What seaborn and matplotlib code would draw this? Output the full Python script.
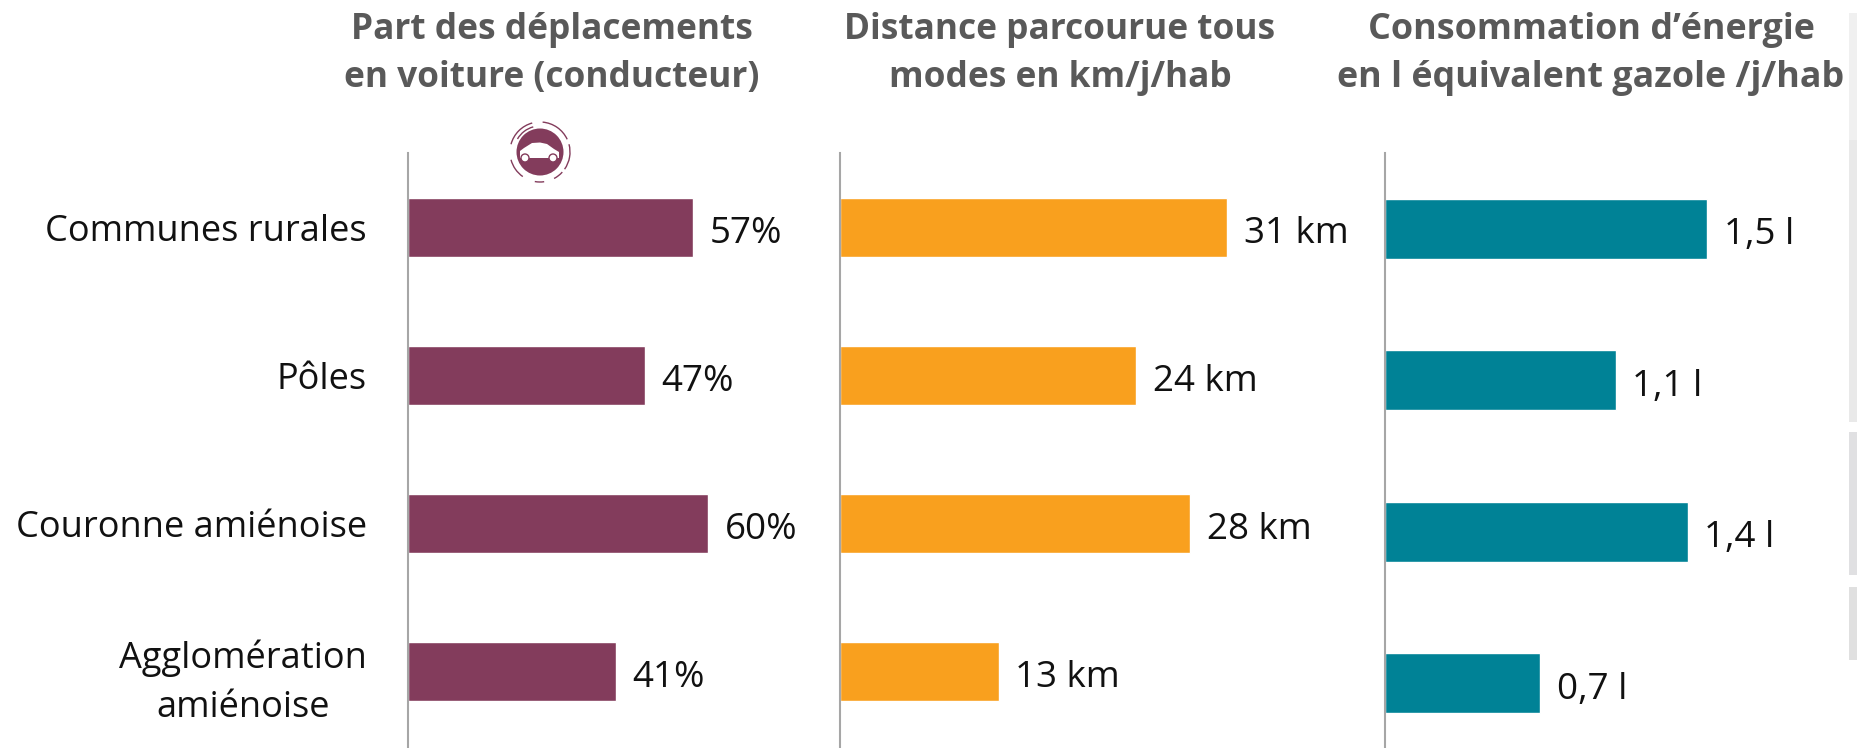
import numpy as np
import pandas as pd
import matplotlib
matplotlib.use('Agg')
import matplotlib.pyplot as plt
from matplotlib.patches import Circle, Arc, Polygon, Rectangle
import seaborn as sns

sns.set_theme(style='white')
plt.rcParams['font.family'] = ['Open Sans', 'DejaVu Sans']

W, H = 1858, 748

territoires = ['Communes rurales', 'Pôles', 'Couronne amiénoise', 'Agglomération\namiénoise']
part_voiture = [57, 47.3, 60, 41.6]
distance = [31, 23.7, 28, 12.7]
energie = [1.495, 1.07, 1.405, 0.72]
labels_part = ['57%', '47%', '60%', '41%']
labels_dist = ['31 km', '24 km', '28 km', '13 km']
labels_ener = ['1,5 l', '1,1 l', '1,4 l', '0,7 l']
titres = ['Part des déplacements\nen voiture (conducteur)',
          'Distance parcourue tous\nmodes en km/j/hab',
          'Consommation d’énergie\nen l équivalent gazole /j/hab']
couleurs = ['#833C5C', '#F9A01E', '#008296']

df = pd.DataFrame({'territoire': territoires, 'part': part_voiture,
                   'dist': distance, 'ener': energie})

fig = plt.figure(figsize=(W / 100, H / 100), dpi=100)


def panneau(col, labels, couleur, x0, largeur, xmax, centre, pas, haut_barre, show_y):
    ax = fig.add_axes([x0 / W, 0, largeur / W, (H - 153) / H])
    sns.barplot(data=df, x=col, y='territoire', color=couleur, saturation=1,
                width=haut_barre / pas, ax=ax)
    ax.set_xlim(0, xmax)
    ax.set_ylim((H - centre) / pas, (153 - centre) / pas)
    ax.set_xlabel('')
    ax.set_ylabel('')
    ax.set_xticks([])
    sns.despine(ax=ax, top=True, right=True, bottom=True)
    ax.spines['left'].set_color('#A6A6A6')
    ax.spines['left'].set_linewidth(1.5)
    ax.patch.set_alpha(0)
    for t in ax.bar_label(ax.containers[0], labels=labels, padding=12, fontsize=26.5, color='#111111'):
        t.set_va('center_baseline')
        t.xyann = (12, -1.5)
    if show_y:
        ax.tick_params(axis='y', length=0, pad=29.5, labelsize=26, labelcolor='#111111')
        for t in ax.get_yticklabels():
            t.set_multialignment('center')
            t.set_linespacing(1.5)
    else:
        ax.set_yticks([])
    return ax


panneau('part', labels_part, couleurs[0], 408, 400, 80, 227.5, 148, 59, True)
panneau('dist', labels_dist, couleurs[1], 840, 500, 40, 227.5, 148, 59, False)
panneau('ener', labels_ener, couleurs[2], 1385.5, 450, 2.093, 228.5, 151.5, 60, False)

# calque en pixels pour les titres, l'icone et la bande de droite
top = fig.add_axes([0, 0, 1, 1], zorder=5)
top.set_xlim(0, W)
top.set_ylim(H, 0)
top.axis('off')

for x, t, fs in zip([552, 1060, 1591], titres, [25.4, 25.4, 25.8]):
    top.text(x, 54, t, ha='center', va='center', fontsize=fs, fontweight='bold',
             color='#595959', linespacing=1.42)

# icone voiture
cx, cy = 540, 152
top.add_patch(Circle((cx, cy), 23.5, fc=couleurs[0], ec='none'))
for a, b in [(-165, -105), (-85, -25), (-15, 35), (42, 62), (82, 100), (125, 165)]:
    top.add_patch(Arc((cx, cy), 60, 60, theta1=a, theta2=b, ec=couleurs[0], lw=1))
top.add_patch(Arc((cx, cy), 52, 52, theta1=-150, theta2=-105, ec=couleurs[0], lw=1))
car = [(-20, 6), (-20, -1), (-16, -4), (-8, -9), (0, -9.5), (7, -8), (14, -3),
       (19, 0), (19, 6)]
top.add_patch(Polygon([(cx + a, cy + b) for a, b in car], fc='white', ec='none'))
for dx in (-15, 13):
    top.add_patch(Circle((cx + dx, cy + 6), 4, fc='white', ec=couleurs[0], lw=1))

# bande grise du bord droit
for y0, y1, c in [(13, 140, '#F0F0F0'), (140, 422, '#E9E9E9'),
                  (432, 575, '#E0E0E2'), (587, 660, '#E0E0E0')]:
    top.add_patch(Rectangle((1849, y0), 9, y1 - y0, fc=c, ec='none'))

fig.savefig('out.png', dpi=100, facecolor='white')
